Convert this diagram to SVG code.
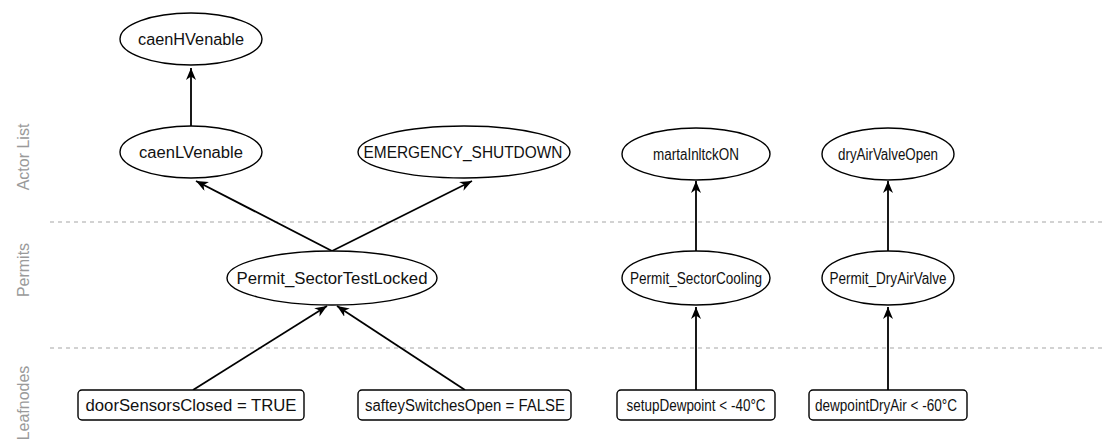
<svg xmlns="http://www.w3.org/2000/svg" width="1106" height="440" viewBox="0 0 1106 440">
<style>
.bg{fill:#ffffff}
.lane{fill:none;stroke:#a6a6a6;stroke-width:1.2;stroke-dasharray:4 4}
.lbl{font-family:"Liberation Sans",Arial,sans-serif;font-size:16px;fill:#9a9a9a;text-anchor:middle}
.node ellipse,.node rect{fill:#ffffff;stroke:#000000;stroke-width:1.4}
.node text{font-family:"Liberation Sans",Arial,sans-serif;font-size:16px;fill:#111111;text-anchor:middle}
.edge{fill:none;stroke:#000000;stroke-width:1.8;marker-end:url(#arr)}
</style>
<defs>
<marker id="arr" markerUnits="userSpaceOnUse" markerWidth="14" markerHeight="12" refX="12" refY="5" orient="auto">
<path d="M0,0 L12,5 L0,10 L3.5,5 Z" fill="#000000"/>
</marker>
</defs>
<rect class="bg" x="0" y="0" width="1106" height="440"/>
<g id="lanes">
<line class="lane" x1="50" y1="222" x2="1106" y2="222"/>
<line class="lane" x1="50" y1="348" x2="1106" y2="348"/>
<text class="lbl" transform="translate(29,157) rotate(-90)">Actor List</text>
<text class="lbl" transform="translate(29,270) rotate(-90)">Permits</text>
<text class="lbl" transform="translate(29,403) rotate(-90)">Leafnodes</text>
</g>
<g id="connectors">
<line class="edge" x1="191" y1="126" x2="191" y2="68"/>
<line class="edge" x1="332" y1="251" x2="196" y2="181"/>
<line class="edge" x1="332" y1="251" x2="472" y2="181"/>
<line class="edge" x1="193" y1="390" x2="327" y2="306"/>
<line class="edge" x1="465" y1="390" x2="337" y2="306"/>
<line class="edge" x1="696" y1="390" x2="696" y2="307"/>
<line class="edge" x1="696" y1="251" x2="696" y2="181"/>
<line class="edge" x1="888" y1="390" x2="888" y2="307"/>
<line class="edge" x1="888" y1="251" x2="888" y2="181"/>
</g>
<g id="caenHVenable" class="node">
<ellipse cx="191" cy="39" rx="71" ry="26"/>
<text x="191" y="45" textLength="106" lengthAdjust="spacingAndGlyphs">caenHVenable</text>
</g>
<g id="caenLVenable" class="node">
<ellipse cx="191" cy="152" rx="71" ry="26"/>
<text x="191" y="158" textLength="104" lengthAdjust="spacingAndGlyphs">caenLVenable</text>
</g>
<g id="EMERGENCY_SHUTDOWN" class="node">
<ellipse cx="464" cy="152" rx="106" ry="26"/>
<text x="463" y="158" textLength="199" lengthAdjust="spacingAndGlyphs">EMERGENCY_SHUTDOWN</text>
</g>
<g id="martaInltckON" class="node">
<ellipse cx="696" cy="154" rx="74" ry="26"/>
<text x="696" y="160" textLength="86" lengthAdjust="spacingAndGlyphs">martaInltckON</text>
</g>
<g id="dryAirValveOpen" class="node">
<ellipse cx="888" cy="154" rx="66" ry="26"/>
<text x="888" y="160" textLength="100" lengthAdjust="spacingAndGlyphs">dryAirValveOpen</text>
</g>
<g id="Permit_SectorTestLocked" class="node">
<ellipse cx="332" cy="278" rx="105" ry="27"/>
<text x="332" y="284" textLength="191" lengthAdjust="spacingAndGlyphs">Permit_SectorTestLocked</text>
</g>
<g id="Permit_SectorCooling" class="node">
<ellipse cx="696" cy="278" rx="74" ry="27"/>
<text x="696" y="284" textLength="132" lengthAdjust="spacingAndGlyphs">Permit_SectorCooling</text>
</g>
<g id="Permit_DryAirValve" class="node">
<ellipse cx="888" cy="278" rx="66" ry="27"/>
<text x="888" y="284" textLength="117" lengthAdjust="spacingAndGlyphs">Permit_DryAirValve</text>
</g>
<g id="doorSensorsClosed" class="node">
<rect x="78" y="390" width="226" height="30" rx="4"/>
<text x="191" y="411" textLength="211" lengthAdjust="spacingAndGlyphs">doorSensorsClosed = TRUE</text>
</g>
<g id="safteySwitchesOpen" class="node">
<rect x="358" y="390" width="213" height="30" rx="4"/>
<text x="465" y="411" textLength="200" lengthAdjust="spacingAndGlyphs">safteySwitchesOpen = FALSE</text>
</g>
<g id="setupDewpoint" class="node">
<rect x="617" y="390" width="158" height="30" rx="4"/>
<text x="696" y="411" textLength="139" lengthAdjust="spacingAndGlyphs">setupDewpoint &lt; -40°C</text>
</g>
<g id="dewpointDryAir" class="node">
<rect x="809" y="390" width="158" height="30" rx="4"/>
<text x="886" y="411" textLength="142" lengthAdjust="spacingAndGlyphs">dewpointDryAir &lt; -60°C</text>
</g>
</svg>
